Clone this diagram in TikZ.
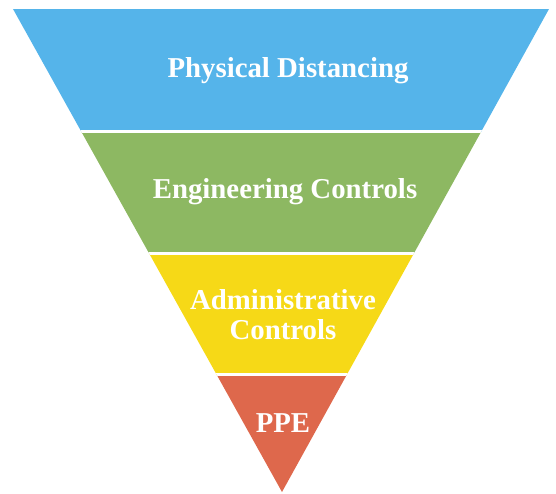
\documentclass[tikz,border=0pt]{standalone}
\usepackage{fontspec}
\setmainfont{Liberation Serif}
\definecolor{distblue}{HTML}{55B4EA}
\definecolor{enggreen}{HTML}{8DB862}
\definecolor{admyellow}{HTML}{F6D917}
\definecolor{ppered}{HTML}{DE684C}
\begin{document}
\begin{tikzpicture}[x=0.02cm,y=-0.02cm]
\tikzstyle{lbl}= [text=white,font=\fontsize{16.4}{17}\selectfont\bfseries,align=center]
\tikzstyle{gap}= [white,line width=1.7pt]

\useasboundingbox (0,0) rectangle (556,494);
\coordinate (tl) at (13,9);
\coordinate (tr) at (549,9);
\coordinate (ap) at (282,492);

% the four bands, cut out of one triangle
\begin{scope}
\clip (tl) -- (tr) -- (ap) -- cycle;
\fill[distblue]  (0,0)   rectangle (556,131.5);
\fill[enggreen]  (0,131.5) rectangle (556,253.5);
\fill[admyellow] (0,253.5) rectangle (556,374.5);
\fill[ppered]    (0,374.5) rectangle (556,494);
\foreach \y in {131.5,253.5,374.5}
	\draw[gap] (0,\y) -- (556,\y);
\end{scope}

\path
	(288,71)  node[lbl] (pd)  {Physical Distancing}
	(285,192) node[lbl] (ec)  {Engineering Controls}
	(283,315) node[lbl] (ac)  {Administrative\\Controls}
	(283,423) node[lbl] (ppe) {PPE}
;
\end{tikzpicture}
\end{document}
